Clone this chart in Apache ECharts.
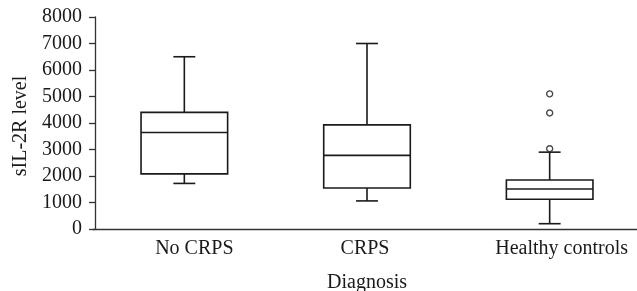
<!DOCTYPE html>
<html>
<head>
<meta charset="utf-8">
<script src="https://cdn.jsdelivr.net/npm/echarts@6/dist/echarts.min.js"></script>
<style>
  html, body { margin: 0; padding: 0; background: #fff; }
  #chart { width: 637px; height: 291px; }
</style>
</head>
<body>
<div id="chart"></div>
<script>
// values
var categories = ['No CRPS', 'CRPS', 'Healthy controls']
var lowWhisker = [1720, 1060, 200]
var q1 = [2080, 1550, 1120]
var median = [3640, 2780, 1510]
var q3 = [4400, 3930, 1850]
var highWhisker = [6500, 7000, 2900]
var outliers = [[2, 5100], [2, 4380], [2, 3030]]

// small nudge of each category label, as in the picture
var labelShift = [20, -4, 24]

var ink = '#1a1a1a'
var font = 'Liberation Serif'

var boxData = categories.map(function (c, i) {
    return [i, lowWhisker[i], q1[i], median[i], q3[i], highWhisker[i]]
})

function renderBox(params, api) {
    var i = api.value(0)
    var band = api.size([1, 0])[0]
    var half = band * 0.237
    var cap = band * 0.06
    var lo = api.coord([i, api.value(1)])
    var b1 = api.coord([i, api.value(2)])
    var md = api.coord([i, api.value(3)])
    var b3 = api.coord([i, api.value(4)])
    var hi = api.coord([i, api.value(5)])
    var x = lo[0]
    var st = { stroke: ink, lineWidth: 1.6, fill: null }
    return {
        type: 'group',
        children: [
            { type: 'line', shape: { x1: x, y1: hi[1], x2: x, y2: b3[1] }, style: st },
            { type: 'line', shape: { x1: x, y1: b1[1], x2: x, y2: lo[1] }, style: st },
            { type: 'line', shape: { x1: x - cap, y1: hi[1], x2: x + cap, y2: hi[1] }, style: st },
            { type: 'line', shape: { x1: x - cap, y1: lo[1], x2: x + cap, y2: lo[1] }, style: st },
            { type: 'rect', shape: { x: x - half, y: b3[1], width: half * 2, height: b1[1] - b3[1] }, style: { stroke: ink, lineWidth: 1.6, fill: '#fff' } },
            { type: 'line', shape: { x1: x - half, y1: md[1], x2: x + half, y2: md[1] }, style: st }
        ]
    }
}

var chart = echarts.init(document.getElementById('chart'))
chart.setOption({
    animation: false,
    grid: { left: 93, right: -4, top: 17, bottom: 62, outerBoundsMode: 'none', containLabel: false },
    xAxis: {
        type: 'category',
        data: categories,
        name: 'Diagnosis',
        nameLocation: 'middle',
        nameGap: 44,
        nameTextStyle: { fontFamily: font, fontSize: 20, color: ink },
        axisLine: { lineStyle: { color: '#333', width: 1.3 } },
        axisTick: { alignWithLabel: true, length: 5, lineStyle: { color: '#333', width: 1.3 } },
        axisLabel: {
            margin: 10,
            formatter: function (v, idx) {
                return '{s' + idx + '|' + v + '}'
            },
            rich: {
                s0: { fontFamily: font, fontSize: 20, color: ink, padding: [0, 0, 0, labelShift[0]] },
                s1: { fontFamily: font, fontSize: 20, color: ink, padding: [0, -labelShift[1], 0, 0] },
                s2: { fontFamily: font, fontSize: 20, color: ink, padding: [0, 0, 0, labelShift[2]] }
            }
        }
    },
    yAxis: {
        type: 'value',
        min: 0,
        max: 8000,
        interval: 1000,
        offset: -2,
        name: 'sIL-2R level',
        nameLocation: 'middle',
        nameGap: 53,
        nameTextStyle: { fontFamily: font, fontSize: 20, color: ink, padding: [0, 0, 0, -6] },
        splitLine: { show: false },
        axisLine: { show: true, lineStyle: { color: '#333', width: 1.3 } },
        axisTick: { show: true, length: 6, lineStyle: { color: '#333', width: 1.3 } },
        axisLabel: {
            margin: 13,
            fontFamily: font,
            fontSize: 20,
            color: ink,
            formatter: function (v) { return String(v) }
        }
    },
    series: [
        {
            type: 'custom',
            renderItem: renderBox,
            data: boxData,
            encode: { x: 0, y: [1, 2, 3, 4, 5] }
        },
        {
            type: 'scatter',
            data: outliers,
            symbol: 'circle',
            symbolSize: 6,
            itemStyle: { color: '#fff', borderColor: ink, borderWidth: 1.4 }
        }
    ]
})
</script>
</body>
</html>
